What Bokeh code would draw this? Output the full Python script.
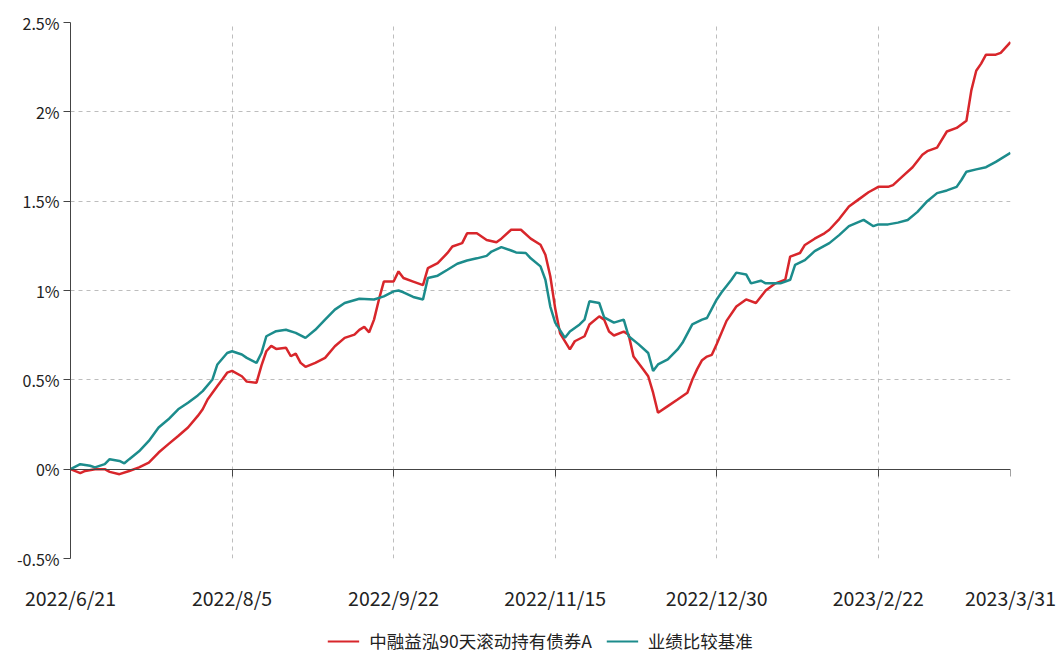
from bokeh.plotting import figure
from bokeh.layouts import column
from bokeh.models import (FixedTicker, CustomJSTickFormatter, LinearAxis, Legend,
                          LegendItem, Range1d)
from bokeh.embed import file_html
from bokeh.resources import INLINE

# trading-day index (0 = 2022/6/21) and cumulative return in %
fund_day = [0,2,3,5,7,8,10,12,14,16,18,20,22,24,26,27,28,30,31,32,
            33,35,36,38,39,40,41,42,44,45,46,47,48,50,52,54,56,58,59,60,
            61,62,63,64,66,67,68,70,72,73,75,77,78,80,81,83,85,87,88,90,
            92,94,96,97,98,99,100,102,103,105,106,108,109,110,111,113,114,115,117,118,
            119,120,122,124,126,127,128,129,130,131,132,134,136,138,140,142,144,146,147,149,
            150,152,154,155,157,159,161,163,165,167,168,170,172,174,175,177,179,181,183,184,
            185,186,187,189,190,192]
fund_ret = [0,-0.022,-0.01,0,0,-0.015,-0.028,-0.01,0.01,0.037,
            0.093,0.14,0.186,0.233,0.298,0.335,0.39,0.465,0.502,0.54,
            0.55,0.52,0.49,0.484,0.58,0.66,0.69,0.673,0.68,0.632,
            0.647,0.595,0.573,0.595,0.623,0.688,0.735,0.753,0.78,0.796,
            0.766,0.837,0.95,1.05,1.05,1.107,1.07,1.05,1.03,1.125,
            1.153,1.21,1.246,1.265,1.32,1.32,1.283,1.27,1.29,1.34,
            1.34,1.29,1.256,1.20,1.08,0.90,0.76,0.67,0.716,0.744,
            0.81,0.855,0.837,0.77,0.748,0.77,0.753,0.63,0.558,0.52,
            0.428,0.316,0.353,0.39,0.428,0.50,0.56,0.61,0.63,0.64,
            0.70,0.83,0.91,0.95,0.93,1.0,1.04,1.06,1.19,1.21,
            1.255,1.29,1.32,1.34,1.40,1.47,1.51,1.55,1.58,1.58,
            1.59,1.64,1.69,1.76,1.78,1.80,1.89,1.91,1.95,2.12,
            2.23,2.27,2.32,2.32,2.33,2.39]

bench_day = [0,2,4,5,7,8,10,11,12,14,16,18,20,22,24,26,27,29,30,32,
             33,35,36,38,39,40,42,44,46,48,50,52,54,56,59,62,64,66,67,68,
             70,72,73,75,77,79,81,83,85,86,88,90,91,93,94,96,97,98,99,101,
             102,104,105,106,108,109,111,113,114,116,118,119,120,122,124,125,127,129,130,132,
             133,135,136,138,139,141,142,145,147,148,150,152,155,157,159,162,164,165,167,169,
             171,173,175,177,179,181,182,183,185,187,189,192]
bench_ret = [0,0.028,0.019,0.01,0.028,0.056,0.046,0.033,0.056,0.10,
             0.158,0.233,0.279,0.335,0.372,0.413,0.437,0.502,0.586,0.65,
             0.66,0.642,0.623,0.595,0.65,0.744,0.772,0.78,0.763,0.735,
             0.78,0.837,0.893,0.93,0.954,0.95,0.967,0.995,1.0,0.99,
             0.964,0.95,1.07,1.083,1.116,1.15,1.168,1.18,1.194,1.218,
             1.243,1.224,1.213,1.21,1.18,1.135,1.06,0.91,0.82,0.735,
             0.77,0.81,0.837,0.94,0.93,0.85,0.82,0.837,0.744,0.70,
             0.65,0.55,0.586,0.614,0.67,0.707,0.81,0.837,0.846,0.95,
             0.99,1.06,1.10,1.09,1.04,1.055,1.04,1.04,1.06,1.144,
             1.17,1.22,1.265,1.31,1.36,1.395,1.36,1.37,1.37,1.38,
             1.395,1.44,1.50,1.545,1.56,1.58,1.62,1.665,1.678,1.69,
             1.72,1.77]

tick_days = [0, 33, 66, 99, 132, 165, 192]
tick_labels = ["2022/6/21", "2022/8/5", "2022/9/22", "2022/11/15",
               "2022/12/30", "2023/2/22", "2023/3/31"]
y_ticks = [-0.5, 0, 0.5, 1, 1.5, 2, 2.5]
series_names = ["中融益泓90天滚动持有债券A", "业绩比较基准"]

FONT = "Noto Sans CJK SC"
RED = "#d8262b"
TEAL = "#1c8c8c"

p = figure(width=1056, height=614, output_backend="svg", toolbar_location=None,
           x_range=Range1d(0, 192), y_range=Range1d(-0.5, 2.5),
           min_border_left=70, min_border_right=46, min_border_top=22,
           min_border_bottom=54)
p.outline_line_color = None
p.background_fill_color = "white"

# grids
p.xgrid.ticker = FixedTicker(ticks=tick_days)
p.ygrid.ticker = FixedTicker(ticks=y_ticks)
for g in (p.xgrid[0], p.ygrid[0]):
    g.grid_line_color = "#bdbdbd"
    g.grid_line_dash = "4 4"
    g.grid_line_width = 1

# main x axis (labels only, at bottom)
xa = p.xaxis[0]
xa.ticker = FixedTicker(ticks=tick_days)
xa.major_label_overrides = {d: lab for d, lab in zip(tick_days, tick_labels)}
xa.axis_line_color = None
xa.major_tick_line_color = None
xa.major_tick_out = 0
xa.major_tick_in = 0
xa.minor_tick_line_color = None
xa.major_label_standoff = 24
xa.major_label_text_font = FONT
xa.major_label_text_font_size = "19.5px"
xa.major_label_text_color = "#222222"

# y axis
ya = p.yaxis[0]
ya.ticker = FixedTicker(ticks=y_ticks)
ya.formatter = CustomJSTickFormatter(code="return tick + '%';")
ya.axis_line_color = "#444444"
ya.major_tick_line_color = "#444444"
ya.major_tick_out = 7
ya.major_tick_in = 0
ya.minor_tick_line_color = None
ya.major_label_standoff = 4
ya.major_label_text_font = FONT
ya.major_label_text_font_size = "16px"
ya.major_label_text_color = "#222222"

# zero line with downward ticks (drawn at y = 0)
za = LinearAxis(fixed_location=0, ticker=FixedTicker(ticks=tick_days),
                formatter=CustomJSTickFormatter(code="return '';"),
                axis_line_color="#444444", major_tick_line_color="#444444",
                major_tick_out=7, major_tick_in=0, minor_tick_line_color=None,
                major_label_standoff=0)
p.add_layout(za, "below")

p.line(fund_day, fund_ret, line_color=RED, line_width=2.5)
p.line(bench_day, bench_ret, line_color=TEAL, line_width=2.5)

# legend strip below the chart (same series, drawn outside its visible range)
pl = figure(width=1056, height=41, output_backend="svg", toolbar_location=None,
            x_axis_type=None, y_axis_type=None,
            x_range=Range1d(1000, 1001), y_range=Range1d(1000, 1001),
            min_border_left=0, min_border_right=0, min_border_top=0,
            min_border_bottom=0)
pl.outline_line_color = None
pl.xgrid.visible = False
pl.ygrid.visible = False
l1 = pl.line(fund_day, fund_ret, line_color=RED, line_width=2.2)
l2 = pl.line(bench_day, bench_ret, line_color=TEAL, line_width=2.2)
legend = Legend(items=[LegendItem(label=series_names[0], renderers=[l1]),
                       LegendItem(label=series_names[1], renderers=[l2])],
                orientation="horizontal", location="bottom_center",
                border_line_color=None, background_fill_alpha=0,
                label_text_font=FONT, label_text_font_size="17.5px",
                label_text_color="#222222",
                glyph_width=32, label_standoff=10, spacing=14,
                padding=0, margin=2)
pl.add_layout(legend)

layout = column(p, pl, spacing=0)
open("out.html", "w").write(file_html(layout, INLINE))
